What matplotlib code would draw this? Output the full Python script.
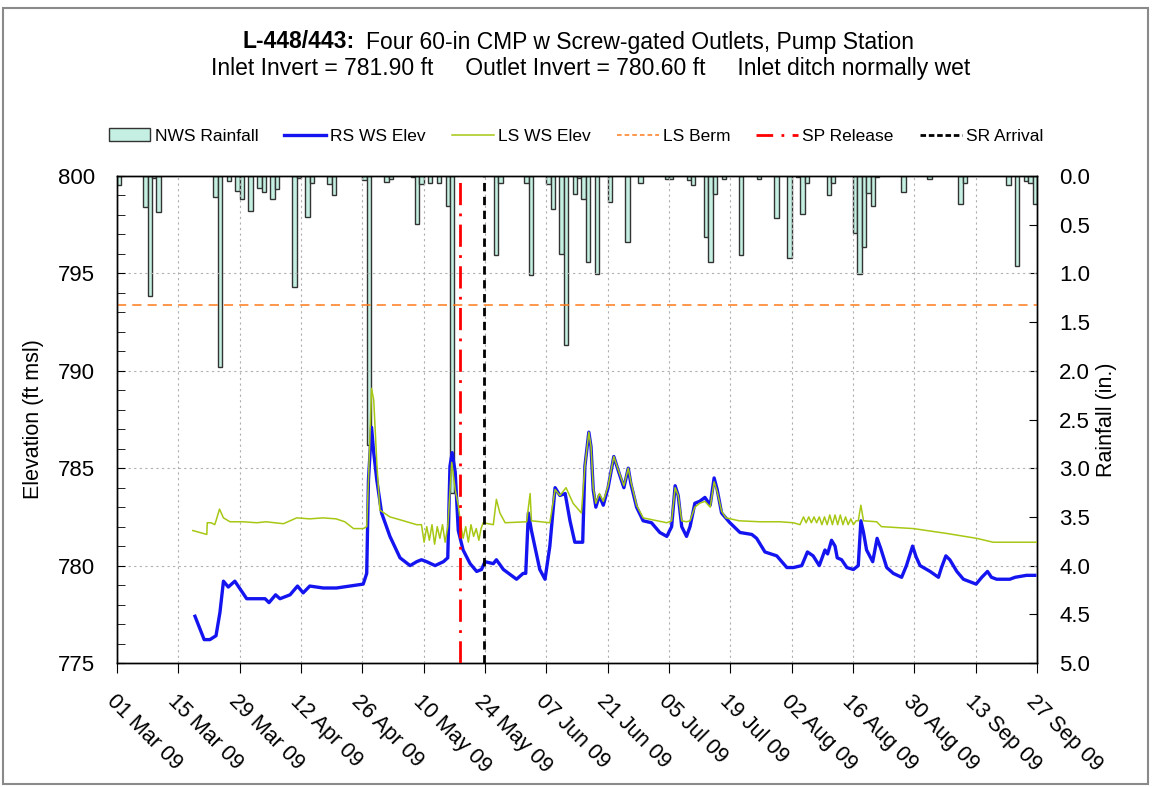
import matplotlib
matplotlib.use("Agg")
import matplotlib.pyplot as plt
import matplotlib.dates as mdates
from matplotlib.patches import Patch, Rectangle
from matplotlib.lines import Line2D
from matplotlib.ticker import MultipleLocator
import numpy as np
import pandas as pd

# ---- data (days after 01 Mar 2009) ----
start = pd.Timestamp("2009-03-01")
end = pd.Timestamp("2009-09-27")

rain_day = [0, 6, 7, 8, 9, 22, 23, 25, 27, 28, 30, 32, 33, 35, 36, 40, 41, 43, 44, 48,
            49, 56, 57, 61, 62, 67, 68, 69, 71, 73, 75, 76, 86, 87, 93, 94, 98, 99, 101, 102,
            104, 105, 106, 107, 109, 112, 116, 119, 125, 126, 130, 131, 134, 135, 136, 138, 142, 146, 150, 153,
            155, 156, 157, 162, 163, 168, 169, 170, 171, 172, 173, 179, 185, 192, 193, 203, 205, 207, 208, 209]
rain_in = [0.09, 0.32, 1.23, 0.02, 0.37, 0.22, 1.96, 0.05, 0.15, 0.24, 0.36, 0.12, 0.16, 0.24, 0.13, 1.14, 0.02, 0.42, 0.07, 0.08,
           0.20, 0.04, 2.76, 0.06, 0.03, 0.01, 0.49, 0.08, 0.07, 0.07, 0.31, 3.25, 0.81, 0.07, 0.07, 1.02, 0.08, 0.34, 0.80, 1.74,
           0.18, 0.02, 0.24, 0.88, 1.01, 0.27, 0.68, 0.07, 0.03, 0.03, 0.04, 0.09, 0.63, 0.88, 0.18, 0.03, 0.81, 0.03, 0.43, 0.84,
           0.01, 0.39, 0.07, 0.20, 0.07, 0.59, 1.01, 0.73, 0.17, 0.31, 0.01, 0.16, 0.03, 0.29, 0.07, 0.09, 0.92, 0.05, 0.07, 0.29]

# RS WS Elev (day, ft)
rs_pts = [(17.8, 777.4), (19.9, 776.2), (21.2, 776.2), (22.6, 776.4), (23.5, 777.6), (24.3, 779.2),
          (25.4, 778.9), (26.9, 779.2), (29.6, 778.3), (31.9, 778.3), (33.8, 778.3), (34.7, 778.1),
          (36.2, 778.5), (37.2, 778.3), (39.5, 778.5), (41.2, 778.95), (42.5, 778.6), (44.0, 778.95),
          (47.1, 778.85), (50.1, 778.85), (53.2, 778.95), (56.2, 779.05), (57.0, 779.6), (57.4, 784.4),
          (58.1, 787.1), (58.6, 785.8), (59.3, 784.4), (60.4, 782.7), (62.3, 781.5), (64.6, 780.4),
          (66.9, 780.0), (68.4, 780.2), (69.5, 780.3), (70.7, 780.2), (72.6, 780.0), (74.5, 780.2),
          (75.5, 780.4), (76.0, 785.1), (76.5, 785.8), (77.2, 784.8), (77.9, 781.8), (79.0, 780.8),
          (80.6, 780.1), (82.1, 779.7), (83.2, 779.8), (84.0, 780.2), (85.9, 780.1), (86.6, 780.3),
          (88.2, 779.8), (91.2, 779.3), (92.7, 779.6), (93.3, 779.6), (93.9, 782.7), (94.6, 781.8),
          (96.5, 779.8), (97.7, 779.3), (98.8, 781.0), (100.0, 784.0), (101.1, 783.6), (102.3, 783.7),
          (103.4, 782.3), (104.5, 781.2), (106.3, 781.2), (106.8, 785.1), (107.7, 786.85), (108.2, 786.1),
          (108.7, 783.9), (109.3, 783.0), (110.1, 783.6), (111.0, 783.1), (112.1, 784.0), (113.4, 785.6),
          (114.6, 784.75), (115.7, 784.0), (116.7, 785.0), (117.3, 784.2), (118.6, 783.0), (120.1, 782.3),
          (122.0, 782.2), (123.9, 781.7), (125.5, 781.5), (126.6, 782.0), (127.4, 784.1), (128.1, 783.6),
          (128.9, 782.0), (130.0, 781.5), (130.8, 782.0), (131.9, 783.2), (133.0, 783.3), (134.2, 783.5),
          (135.4, 783.1), (136.3, 784.5), (137.0, 783.9), (138.0, 782.7), (139.9, 782.2), (142.2, 781.7),
          (144.9, 781.6), (146.0, 781.4), (147.9, 780.7), (150.6, 780.5), (152.9, 779.9), (154.4, 779.9),
          (156.3, 780.0), (157.6, 780.7), (158.9, 780.5), (160.3, 780.0), (161.6, 780.8), (162.2, 780.6),
          (163.1, 781.3), (163.9, 781.0), (164.4, 780.4), (165.4, 780.3), (166.6, 779.9), (168.1, 779.8),
          (169.2, 780.0), (169.8, 782.3), (170.4, 781.7), (171.1, 780.8), (172.5, 780.2), (173.5, 781.4),
          (174.3, 780.9), (175.7, 779.9), (177.2, 779.6), (179.1, 779.4), (180.2, 780.0), (181.6, 781.0),
          (182.4, 780.45), (183.3, 780.0), (185.6, 779.7), (187.5, 779.4), (188.2, 779.9), (189.2, 780.5),
          (190.1, 780.3), (191.7, 779.7), (193.2, 779.3), (196.1, 779.05), (197.4, 779.4), (198.7, 779.7),
          (199.6, 779.4), (200.8, 779.3), (203.8, 779.3), (205.0, 779.4), (207.6, 779.5), (209.5, 779.5)]

# LS WS Elev (day, ft)
ls_pts = [(17.3, 781.8), (20.5, 781.6), (20.6, 782.2), (21.5, 782.2), (22.3, 782.1), (22.6, 782.3),
          (23.4, 782.9), (24.3, 782.45), (25.8, 782.25), (28.8, 782.25), (31.9, 782.2), (34.0, 782.25),
          (38.0, 782.15), (41.0, 782.45), (44.0, 782.4), (47.0, 782.45), (50.0, 782.4), (52.0, 782.25),
          (54.0, 781.9), (56.2, 781.9), (57.0, 782.0), (57.4, 784.4), (58.1, 789.1), (58.6, 788.5),
          (59.3, 785.3), (60.0, 782.85), (62.3, 782.5), (65.4, 782.3), (68.4, 782.1), (69.5, 782.1),
          (70.1, 781.2), (70.7, 782.0), (71.3, 781.3), (71.9, 782.1), (72.5, 781.1), (73.1, 782.0),
          (73.7, 781.4), (74.3, 782.1), (74.9, 781.2), (75.5, 782.0), (76.4, 785.3), (77.2, 783.9),
          (77.9, 783.1), (78.4, 782.2), (79.0, 781.4), (79.6, 782.0), (80.2, 781.2), (80.8, 782.1),
          (81.4, 781.5), (82.0, 781.9), (82.6, 781.3), (83.1, 781.9), (83.6, 782.2),
          (85.9, 782.1), (86.6, 783.4), (87.4, 782.7), (88.6, 782.2), (93.5, 782.25), (94.3, 783.7),
          (94.6, 782.3), (98.8, 782.2), (100.0, 783.9), (101.1, 783.6), (102.5, 784.0), (104.1, 783.2),
          (106.0, 782.7), (106.8, 785.1), (107.7, 786.85), (108.2, 786.1), (108.7, 784.0), (109.3, 783.2),
          (110.1, 783.7), (111.0, 783.3), (112.1, 784.1), (113.4, 785.6), (114.6, 784.8), (115.7, 784.1),
          (116.7, 785.0), (117.3, 784.3), (118.6, 783.1), (120.1, 782.45), (125.5, 782.2), (126.6, 782.3),
          (127.4, 784.0), (128.1, 783.6), (128.9, 782.3), (130.0, 782.25), (130.8, 782.3), (131.9, 783.0),
          (133.0, 783.2), (134.2, 783.3), (135.4, 783.0), (136.3, 784.3), (137.0, 783.8), (138.0, 782.8),
          (139.0, 782.45), (142.0, 782.3), (146.8, 782.25), (151.3, 782.25), (154.4, 782.2), (155.9, 782.1),
          (156.7, 782.5), (157.3, 782.2), (157.9, 782.5), (158.5, 782.2), (159.1, 782.5), (159.7, 782.2),
          (160.3, 782.5), (160.9, 782.1), (161.5, 782.5), (162.1, 782.1), (162.7, 782.6), (163.3, 782.1),
          (163.9, 782.6), (164.5, 782.1), (165.1, 782.6), (165.7, 782.1), (166.3, 782.5), (166.9, 782.1),
          (167.5, 782.4), (168.1, 782.1), (168.7, 782.3), (169.2, 782.3), (169.8, 783.1), (170.4, 782.3),
          (173.4, 782.25), (174.5, 782.0), (181.8, 781.9), (189.4, 781.65), (196.2, 781.4), (200.0, 781.2),
          (209.9, 781.2)]

ls_berm = 793.4
sp_release_day = 78.3
sr_arrival_day = 83.8

title_bold = "L-448/443:"
title_rest = "Four 60-in CMP w Screw-gated Outlets, Pump Station"
title_line2 = "Inlet Invert = 781.90 ft     Outlet Invert = 780.60 ft     Inlet ditch normally wet"

# ---- helpers ----
base = mdates.date2num(start.to_pydatetime())
W, H = 1155, 787
def fx(px):
    return px / W
def fy(py):
    return 1 - py / H

font = ["Liberation Sans", "DejaVu Sans"]
bar_fill = "#c4efe2"

fig = plt.figure(figsize=(W / 100, H / 100), dpi=100)
fig.patch.set_facecolor("white")
ax = fig.add_axes([fx(117), fy(663), fx(1037) - fx(117), fy(176) - fy(663)])
ax2 = ax.twinx()
ax.set_zorder(ax2.get_zorder() + 1)
ax.patch.set_visible(False)

# rainfall bars hanging from top
rx = base + np.array(rain_day, dtype=float)
ax2.bar(rx, rain_in, width=1.0, align="edge", bottom=0, color=bar_fill,
        edgecolor="#333333", linewidth=1.0)
ax2.set_ylim(5, 0)
rticks = np.arange(0, 5.01, 0.5)
ax2.set_yticks(rticks)
ax2.set_yticklabels([f"{v:.1f}" for v in rticks], family=font, fontsize=16)
ax2.tick_params(axis="y", direction="in", length=6, pad=16)
ax2.set_ylabel("Rainfall (in.)", family=font, fontsize=15.5, labelpad=4)

# water surface lines
rs_d, rs_e = zip(*rs_pts)
ls_d, ls_e = zip(*ls_pts)
ax.plot(base + np.array(rs_d), rs_e, color="#1414f0", lw=2.4, zorder=3)
ax.plot(base + np.array(ls_d), ls_e, color="#a6c814", lw=1.1, zorder=4)
ax.axhline(ls_berm, color="#ff7a1a", lw=1.1, ls=(0, (6, 4)), zorder=2)
ax.axvline(base + sp_release_day, color="#ff0000", lw=2.0, ls=(0, (8, 3, 1, 3)), zorder=5)
ax.axvline(base + sr_arrival_day, color="#000000", lw=2.0, ls=(0, (3, 2)), zorder=5)

ax.set_ylim(775, 800)
ax.set_xlim(mdates.date2num(start.to_pydatetime()), mdates.date2num(end.to_pydatetime()))
ax.yaxis.set_major_locator(MultipleLocator(5))
ax.yaxis.set_minor_locator(MultipleLocator(1))
ax.tick_params(axis="y", which="both", direction="in", length=6, pad=16, labelsize=16)
for t in ax.get_yticklabels():
    t.set_family(font)
ax.set_ylabel("Elevation (ft msl)", family=font, fontsize=15.5, labelpad=10)

xt = [mdates.date2num((start + pd.Timedelta(days=14 * i)).to_pydatetime()) for i in range(16)]
ax.set_xticks(xt)
ax.xaxis.set_major_formatter(mdates.DateFormatter("%d %b %y"))
ax.tick_params(axis="x", direction="out", length=7, pad=13)
for t in ax.get_xticklabels():
    t.set_rotation(-45)
    t.set_ha("left")
    t.set_va("top")
    t.set_rotation_mode("anchor")
    t.set_family(font)
    t.set_fontsize(15.5)

ax.grid(True, which="major", color="#b0b0b0", ls=(0, (2, 3)), lw=0.8)
ax.set_axisbelow(True)
for sp in list(ax.spines.values()) + list(ax2.spines.values()):
    sp.set_color("black")
    sp.set_linewidth(1.0)

# legend
handles = [
    Patch(facecolor=bar_fill, edgecolor="#333333", label="NWS Rainfall"),
    Line2D([], [], color="#1414f0", lw=2.4, label="RS WS Elev"),
    Line2D([], [], color="#a6c814", lw=1.1, label="LS WS Elev"),
    Line2D([], [], color="#ff7a1a", lw=1.1, ls=(0, (3, 2)), label="LS Berm"),
    Line2D([], [], color="#ff0000", lw=2.0, ls=(0, (6, 3, 1, 3)), label="SP Release"),
    Line2D([], [], color="#000000", lw=2.0, ls=(0, (2, 1)), label="SR Arrival"),
]
fig.legend(handles=handles, loc="center", bbox_to_anchor=(fx(576), fy(136)), ncol=6,
           frameon=False, prop={"family": font, "size": 12.5}, handlelength=2.4,
           handletextpad=0.25, columnspacing=1.5)

# title
fig.text(fx(355), fy(42), title_bold, ha="right", va="center", fontsize=16.5,
         fontweight="bold", family=font)
fig.text(fx(366), fy(42), title_rest, ha="left", va="center", fontsize=16.5, family=font)
fig.text(fx(591), fy(68), title_line2, ha="center", va="center", fontsize=16.5, family=font)

# outer frame
fig.patches.append(Rectangle((fx(3), fy(784)), fx(1148) - fx(3), fy(8) - fy(784),
                             transform=fig.transFigure, fill=False, edgecolor="#8a8a8a", lw=1.5))

fig.savefig("out.png", dpi=100)
